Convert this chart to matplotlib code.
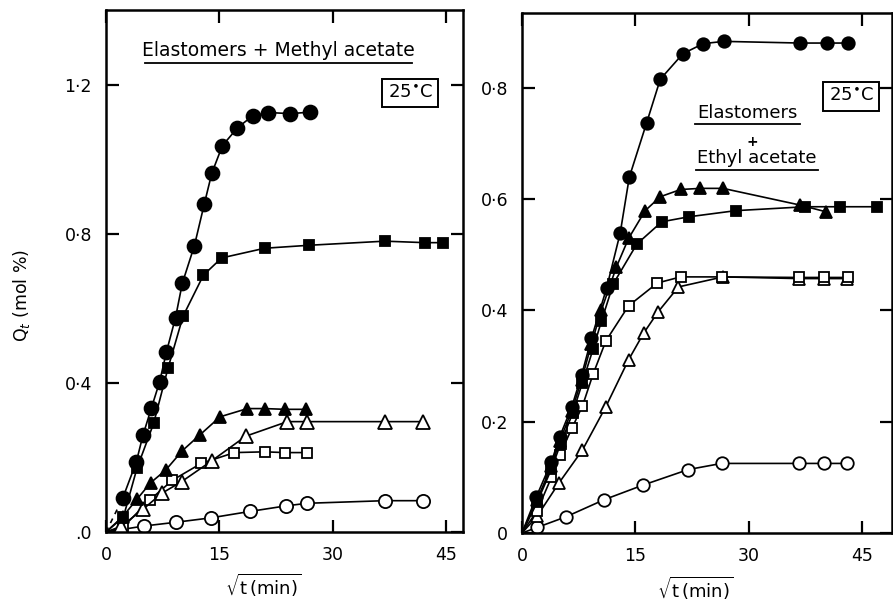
import matplotlib
matplotlib.use("Agg")
import matplotlib.pyplot as plt

# left panel: elastomers + methyl acetate
l_fc_x = [2.2, 4.0, 4.9, 6.0, 7.1, 8.0, 9.2, 10.1, 11.7, 13.0, 14.0, 15.4, 17.4, 19.4, 21.5, 24.4, 27.0]
l_fc_y = [0.090, 0.187, 0.260, 0.332, 0.403, 0.483, 0.575, 0.667, 0.768, 0.879, 0.962, 1.036, 1.084, 1.116, 1.125, 1.122, 1.126]
l_fs_x = [2.3, 4.1, 6.3, 8.2, 10.2, 12.9, 15.3, 21.0, 26.9, 36.9, 42.2, 44.6]
l_fs_y = [0.040, 0.171, 0.291, 0.439, 0.579, 0.689, 0.735, 0.761, 0.769, 0.780, 0.776, 0.776]
l_ft_x = [2.2, 4.1, 5.9, 7.9, 10.1, 12.4, 15.1, 18.7, 21.0, 23.7, 26.5]
l_ft_y = [0.041, 0.088, 0.132, 0.166, 0.218, 0.260, 0.309, 0.331, 0.331, 0.329, 0.329]
l_ot_x = [2.0, 4.9, 7.4, 10.0, 14.0, 18.5, 24.0, 26.6, 36.9, 42.0]
l_ot_y = [0.015, 0.061, 0.104, 0.135, 0.191, 0.257, 0.296, 0.296, 0.296, 0.296]
l_os_x = [2.3, 5.8, 8.8, 12.6, 17.0, 21.0, 23.7, 26.6]
l_os_y = [0.014, 0.086, 0.139, 0.184, 0.213, 0.215, 0.213, 0.213]
l_oc_x = [5.0, 9.2, 13.9, 19.0, 23.8, 26.6, 36.9, 42.0]
l_oc_y = [0.016, 0.026, 0.038, 0.055, 0.070, 0.077, 0.084, 0.084]

# right panel: elastomers + ethyl acetate
r_fc_x = [1.9, 3.9, 5.0, 6.6, 7.9, 9.2, 11.2, 13.0, 14.2, 16.5, 18.3, 21.3, 24.0, 26.7, 36.8, 40.3, 43.2]
r_fc_y = [0.065, 0.128, 0.173, 0.227, 0.284, 0.350, 0.440, 0.539, 0.639, 0.737, 0.815, 0.861, 0.879, 0.883, 0.880, 0.880, 0.880]
r_ft_x = [2.0, 3.9, 5.0, 6.6, 7.9, 9.2, 10.5, 12.5, 14.1, 16.3, 18.3, 21.0, 23.6, 26.6, 36.8, 40.2]
r_ft_y = [0.060, 0.120, 0.165, 0.220, 0.275, 0.340, 0.400, 0.478, 0.529, 0.579, 0.604, 0.617, 0.619, 0.619, 0.589, 0.577]
r_fs_x = [2.0, 3.9, 5.1, 6.7, 8.0, 9.4, 10.5, 12.1, 15.2, 18.5, 22.1, 28.3, 37.5, 42.1, 47.0]
r_fs_y = [0.055, 0.115, 0.160, 0.215, 0.270, 0.330, 0.380, 0.448, 0.519, 0.559, 0.568, 0.579, 0.586, 0.586, 0.586]
r_os_x = [2.0, 3.9, 5.0, 6.6, 8.0, 9.4, 11.1, 14.1, 17.9, 21.0, 26.4, 36.6, 40.0, 43.2]
r_os_y = [0.040, 0.100, 0.140, 0.188, 0.228, 0.285, 0.345, 0.408, 0.449, 0.460, 0.460, 0.459, 0.459, 0.459]
r_ot_x = [2.0, 4.9, 8.0, 11.1, 14.1, 16.1, 18.0, 20.7, 26.6, 36.6, 40.0, 43.0]
r_ot_y = [0.030, 0.090, 0.149, 0.227, 0.311, 0.359, 0.397, 0.442, 0.460, 0.457, 0.457, 0.457]
r_oc_x = [2.0, 5.8, 10.9, 16.0, 22.0, 26.4, 36.6, 40.0, 43.0]
r_oc_y = [0.010, 0.029, 0.060, 0.086, 0.114, 0.125, 0.125, 0.125, 0.125]

x_ticks = [0, 15, 30, 45]
x_ticklabels = ["0", "15", "30", "45"]
l_yticks = [0, 0.4, 0.8, 1.2]
l_yticklabels = [".0", "0·4", "0·8", "1·2"]
r_yticks = [0, 0.2, 0.4, 0.6, 0.8]
r_yticklabels = ["0", "0·2", "0·4", "0·6", "0·8"]


def series(ax, x, y, marker, filled, ms, dashed_start=False):
    # curves start at the origin
    xs = [0] + x
    ys = [0] + y
    if dashed_start:
        ax.plot(xs[:2], ys[:2], color="black", lw=1.2, ls=(0, (3, 3)))
        xs, ys = xs[1:], ys[1:]
        ax.plot(xs, ys, color="black", lw=1.2, marker=marker, ms=ms,
                mfc="black" if filled else "white", mec="black", mew=1.3)
        return
    ax.plot(xs, ys, color="black", lw=1.2, marker=marker, ms=ms,
            mfc="black" if filled else "white", mec="black", mew=1.3,
            markevery=slice(1, None))


def style(ax, xmax, ymax, yticks, yticklabels):
    ax.set_xlim(0, xmax)
    ax.set_ylim(0, ymax)
    ax.set_xticks(x_ticks)
    ax.set_xticklabels(x_ticklabels)
    ax.set_yticks(yticks)
    ax.set_yticklabels(yticklabels)
    ax.tick_params(direction="in", length=9, width=1.6, top=True, right=True,
                   labelsize=12.5, pad=10)
    for s in ax.spines.values():
        s.set_linewidth(1.8)


fig = plt.figure(figsize=(8.93, 6.01), dpi=100)
axl = fig.add_axes([0.1187, 0.1148, 0.3998, 0.8686])
axr = fig.add_axes([0.5845, 0.1131, 0.4145, 0.8653])

series(axl, l_oc_x, l_oc_y, "o", False, 9.5)
series(axl, l_os_x, l_os_y, "s", False, 7)
series(axl, l_ot_x, l_ot_y, "^", False, 9.5)
series(axl, l_ft_x, l_ft_y, "^", True, 9)
series(axl, l_fs_x, l_fs_y, "s", True, 7)
series(axl, l_fc_x, l_fc_y, "o", True, 10, dashed_start=True)
style(axl, 47.25, 1.40, l_yticks, l_yticklabels)

series(axr, r_oc_x, r_oc_y, "o", False, 9)
series(axr, r_ot_x, r_ot_y, "^", False, 9)
series(axr, r_os_x, r_os_y, "s", False, 6.5)
series(axr, r_fs_x, r_fs_y, "s", True, 6.5)
series(axr, r_ft_x, r_ft_y, "^", True, 8.5)
series(axr, r_fc_x, r_fc_y, "o", True, 9)
style(axr, 48.97, 0.934, r_yticks, r_yticklabels)

# annotations
axl.text(0.483, 0.923, "Elastomers + Methyl acetate", transform=axl.transAxes,
         ha="center", va="center", fontsize=13.5)
axl.plot([0.109, 0.857], [0.899, 0.899], transform=axl.transAxes, color="black", lw=1.3)
axl.text(0.852, 0.841, "25$^{\\bullet}$C", transform=axl.transAxes, ha="center",
         va="center", fontsize=13,
         bbox=dict(boxstyle="square,pad=0.3", fc="white", ec="black", lw=1.4))

axr.text(0.61, 0.808, "Elastomers", transform=axr.transAxes, ha="center",
         va="center", fontsize=13)
axr.plot([0.468, 0.751], [0.787, 0.787], transform=axr.transAxes, color="black", lw=1.3)
axr.text(0.622, 0.752, "+", transform=axr.transAxes, ha="center", va="center",
         fontsize=10, fontweight="bold")
axr.text(0.634, 0.721, "Ethyl acetate", transform=axr.transAxes, ha="center",
         va="center", fontsize=13)
axr.plot([0.47, 0.8], [0.699, 0.699], transform=axr.transAxes, color="black", lw=1.3)
axr.text(0.889, 0.840, "25$^{\\bullet}$C", transform=axr.transAxes, ha="center",
         va="center", fontsize=13,
         bbox=dict(boxstyle="square,pad=0.3", fc="white", ec="black", lw=1.4))

fig.text(0.024, 1 - 295 / 601, "Q$_t$ (mol %)", rotation=90, ha="center",
         va="center", fontsize=12.5)
fig.text(263 / 893, 1 - 585 / 601, r"$\sqrt{\mathrm{t\,(min)}}$", ha="center",
         va="center", fontsize=13)
fig.text(695 / 893, 1 - 588 / 601, r"$\sqrt{\mathrm{t\,(min)}}$", ha="center",
         va="center", fontsize=13)

fig.savefig("out.png", dpi=100)
